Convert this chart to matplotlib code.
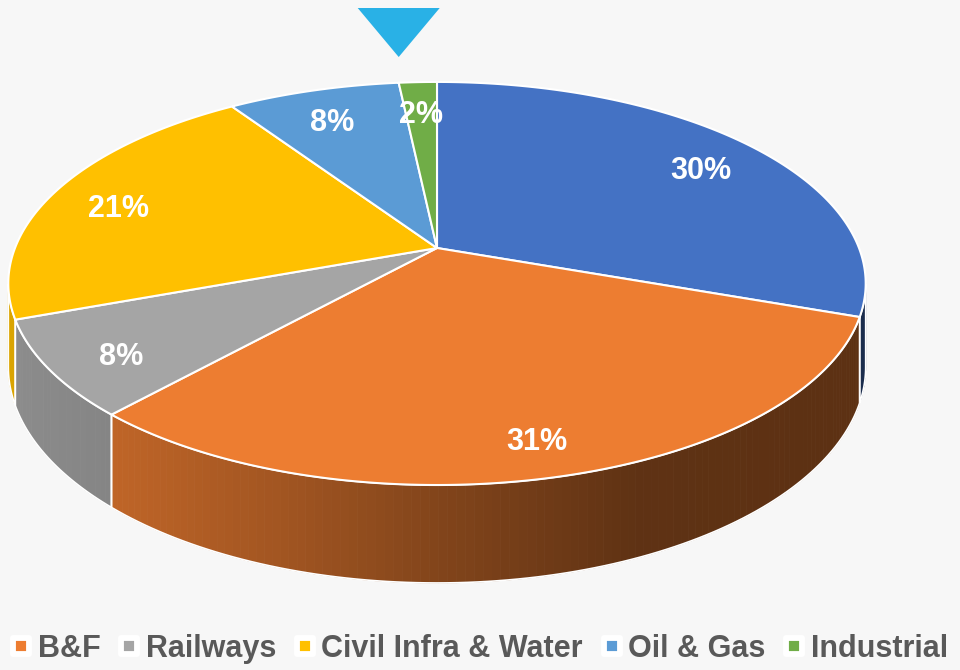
import numpy as np
import matplotlib
matplotlib.use("Agg")
import matplotlib.pyplot as plt
from matplotlib.patches import Polygon
from matplotlib.lines import Line2D
from matplotlib.markers import MarkerStyle

# ---------------- data ----------------
categories = ["Other", "B&F", "Railways", "Civil Infra & Water", "Oil & Gas", "Industrial"]
values = [30.4, 31.3, 7.7, 21.2, 7.7, 1.7]
labels = ["30%", "31%", "8%", "21%", "8%", "2%"]
colors = ["#4472C4", "#ED7D31", "#A5A5A5", "#FFC000", "#5B9BD5", "#70AD47"]
legend_idx = [1, 2, 3, 4, 5]          # first category's legend entry is cropped off

# ---------------- layout / style ----------------
W, H, DPI = 960, 670, 100
BG = "#F7F7F7"
CX, CY = 437, 248          # pie apex on screen (px)
A, B = 422, 195.3          # horizontal / vertical semi-axes
K = 0.176                  # perspective factor
T = 80.7                   # slab thickness
LABEL_R = 0.83
LABEL_Z = 0.12

plt.rcParams["font.family"] = ["Liberation Sans", "DejaVu Sans"]

fig = plt.figure(figsize=(W / DPI, H / DPI), dpi=DPI, facecolor=BG)
ax = fig.add_axes([0, 0, 1, 1])
ax.set_xlim(0, W)
ax.set_ylim(H, 0)
ax.axis("off")
ax.set_facecolor(BG)


def proj(r, phi, z=0.0):
    x = r * np.sin(phi)
    y = r * np.cos(phi)
    d = 1 + K * y
    return CX + A * x / d, CY - B * y / d + T * z / d


def shade(u):
    return np.interp(u, [-1, -0.64, -0.3, 0.0, 0.4, 1.0],
                     [0.86, 0.80, 0.68, 0.55, 0.40, 0.39])


frac = np.array(values) / np.sum(values)
edges = np.concatenate([[0], np.cumsum(frac)]) * 2 * np.pi
vis0 = np.arccos(-K)
vis1 = 2 * np.pi - vis0

# ---- side walls ----
for i in range(len(values)):
    a0, a1 = max(edges[i], vis0), min(edges[i + 1], vis1)
    if a1 <= a0:
        continue
    base = np.array(matplotlib.colors.to_rgb(colors[i]))
    n = max(2, int(np.degrees(a1 - a0)))
    angs = np.linspace(a0, a1, n + 1)
    for j in range(n):
        p0, p1 = angs[j], angs[j + 1]
        xs0, ys0 = proj(1, p0)
        xs1, ys1 = proj(1, p1)
        xb0, yb0 = proj(1, p0, 1)
        xb1, yb1 = proj(1, p1, 1)
        c = np.clip(base * shade(np.sin(0.5 * (p0 + p1))), 0, 1)
        ax.add_patch(Polygon([(xs0, ys0), (xs1, ys1), (xb1, yb1), (xb0, yb0)],
                             closed=True, facecolor=c, edgecolor=c, lw=0.6, zorder=2))
    fine = np.linspace(a0, a1, 100)
    top = [proj(1, p) for p in fine]
    bot = [proj(1, p, 1) for p in fine[::-1]]
    ax.add_patch(Polygon(top + bot, closed=True, facecolor="none",
                         edgecolor="white", lw=1.2, zorder=3))

# ---- top faces ----
for i in range(len(values)):
    angs = np.linspace(edges[i], edges[i + 1], 200)
    pts = [(CX, CY)] + [proj(1, p) for p in angs]
    ax.add_patch(Polygon(pts, closed=True, facecolor=colors[i],
                         edgecolor="white", lw=1.5, zorder=4))

# ---- data labels ----
for i in range(len(values)):
    mid = 0.5 * (edges[i] + edges[i + 1])
    lx, ly = proj(LABEL_R, mid, LABEL_Z)
    ax.text(lx, ly, labels[i], color="white", fontsize=22, fontweight="bold",
            ha="center", va="center", zorder=6)

# ---- pointer triangle above Oil & Gas / Industrial boundary ----
tx, _ = proj(1, edges[5])
ax.add_patch(Polygon([(tx - 41, 8), (tx + 41, 8), (tx, 57)], closed=True,
                     facecolor="#29B1E6", edgecolor="none", zorder=6))

# ---- legend ----
ms = MarkerStyle("s", joinstyle="round")
handles = [Line2D([], [], ls="none", marker=ms, markersize=11.5,
                  markerfacecolor=colors[i], markeredgecolor="white",
                  markeredgewidth=4.2) for i in legend_idx]
fig.legend(handles, [categories[i] for i in legend_idx], loc="center left",
           bbox_to_anchor=(11 / W, 1 - 649 / H), ncol=5, frameon=False,
           labelcolor="#595959", prop={"weight": "bold", "size": 22.0},
           handlelength=0.68, handletextpad=0.2, columnspacing=0.6,
           borderpad=0, borderaxespad=0)

fig.savefig("out.png", dpi=DPI, facecolor=BG)
